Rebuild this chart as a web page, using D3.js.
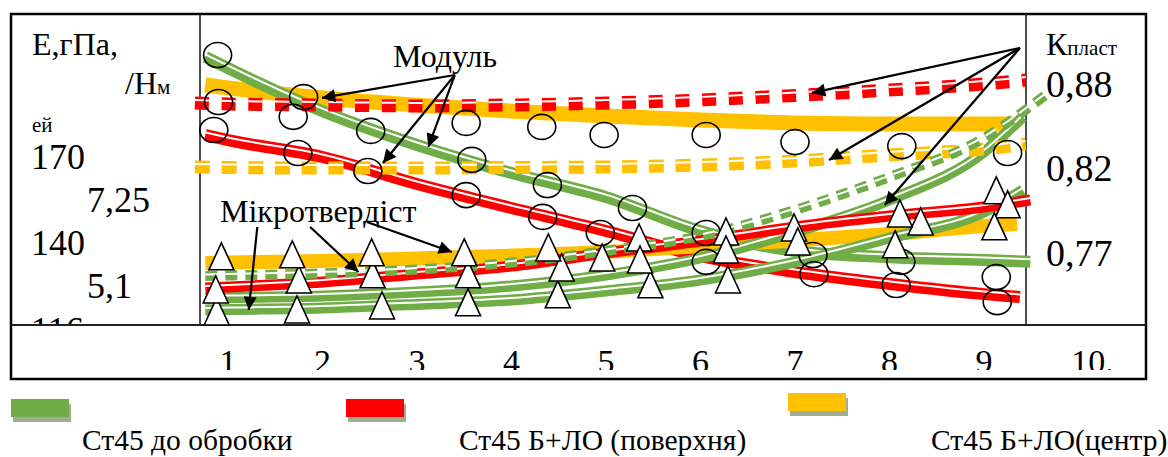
<!DOCTYPE html>
<html>
<head>
<meta charset="utf-8">
<script src="https://cdn.jsdelivr.net/npm/d3@7"></script>
<style>
body { margin: 0; background: #fff; }
svg, text { font-family: "Liberation Serif", "Times New Roman", serif; fill: #000; }
</style>
</head>
<body>
<div id="chart"></div>
<script>
var width = 1168,
    height = 457;

// bottom row
var categories = [1, 2, 3, 4, 5, 6, 7, 8, 9, 10];
var categoryLabels = ["1", "2", "3", "4", "5", "6", "7", "8", "9", "10."];

// axis labels
var eTicks = [170, 140, 116];
var hTicks = [7.25, 5.1];
var kTicks = [0.88, 0.82, 0.77];

// legend
var seriesNames = ["Ст45 до обробки", "Ст45 Б+ЛО (поверхня)", "Ст45 Б+ЛО(центр)"];
var seriesColors = ["#70ad47", "#ff0000", "#ffc000"];

// measured points [position, value] - modulus E (circles)
var eGreen = [[0.89, 205.6], [1.69, 184.0], [2.51, 179.1], [3.58, 169.0], [4.38, 160.2], [5.28, 152.2], [6.06, 143.5], [7.19, 136.7], [8.12, 134.8], [9.13, 130.6]];
var eRed = [[0.85, 179.4], [1.74, 171.4], [2.48, 165.1], [3.52, 156.7], [4.33, 149.1], [4.94, 143.5], [6.06, 134.8], [7.2, 131.4], [8.07, 128.4], [9.14, 123.7]];
var eYellow = [[0.9, 189.2], [1.8, 190.9], [3.52, 181.9], [4.32, 180.5], [4.98, 177.7], [6.06, 177.7], [7.0, 175.2], [8.13, 173.8], [9.25, 171.4]];

// microhardness H (triangles)
var hGreen = [[0.88, 4.45], [1.73, 4.5], [2.63, 4.6], [3.54, 4.68], [4.49, 4.88], [5.47, 5.13], [6.29, 5.25], [8.33, 6.7], [9.13, 7.48]];
var hRed = [[0.87, 5.0], [1.75, 5.25], [2.53, 5.38], [3.54, 5.38], [4.53, 5.55], [5.35, 6.3], [6.27, 6.45], [6.99, 6.55], [8.11, 6.9], [9.25, 7.13]];
var hYellow = [[0.93, 5.83], [1.68, 5.88], [2.52, 5.93], [3.5, 5.93], [4.39, 6.05], [4.96, 5.8], [5.36, 5.75], [6.27, 6.0], [7.03, 6.2], [8.06, 6.13], [9.11, 6.58]];

// trend lines
var eGreenFit = [[0.76, 204.9], [1, 201.0], [2, 186.0], [3, 174.2], [4, 164.4], [5, 156.0], [6, 144.2], [7, 137.8], [8, 136.1], [9, 135.3], [9.49, 134.8]];
var eRedFit = [[0.76, 177.7], [1, 175.9], [2, 170.0], [3, 160.6], [4, 152.2], [5, 144.2], [6, 136.4], [7, 132.0], [8, 128.7], [9, 125.9], [9.38, 125.1]];
var eYellowFit = [[0.76, 195.1], [1, 194.1], [2, 190.6], [3, 188.1], [4, 186.0], [5, 184.3], [6, 182.9], [7, 181.9], [8, 181.5], [9, 181.5], [9.31, 181.5]];
var hYellowFit = [[0.76, 5.675], [1, 5.69], [2, 5.725], [3, 5.79], [4, 5.86], [5, 5.95], [6, 6.1], [7, 6.24], [8, 6.4], [9, 6.6], [9.35, 6.65]];
var hRedFit = [[0.76, 5.05], [1, 5.075], [2, 5.2], [3, 5.4], [4, 5.6], [5, 5.925], [6, 6.225], [7, 6.575], [8, 6.85], [9, 7.075], [9.49, 7.25]];
var hGreenFit = [[0.76, 4.5], [1, 4.51], [2, 4.55], [3, 4.64], [4, 4.75], [5, 4.975], [6, 5.25], [7, 5.7], [8, 6.3], [9, 6.95], [9.41, 7.5]];
var hGreenFit2 = [[0.76, 4.8], [1, 4.81], [2, 4.85], [3, 4.95], [4, 5.1], [5, 5.375], [6, 5.8], [7, 6.45], [8, 7.25], [9, 8.45], [9.41, 9.325]];
var kRedFit = [[0.65, 0.8657], [1, 0.865], [2, 0.8643], [3, 0.8636], [4, 0.8643], [5, 0.8657], [6, 0.8679], [7, 0.8711], [8, 0.875], [9, 0.8793], [9.44, 0.8821]];
var kYellowFit = [[0.65, 0.82], [1, 0.8197], [2, 0.8194], [3, 0.8194], [4, 0.8197], [5, 0.82], [6, 0.8214], [7, 0.8243], [8, 0.8286], [9, 0.8329], [9.44, 0.8364]];
var kGreenFit = [[0.76, 0.7559], [1, 0.7562], [2, 0.7574], [3, 0.7597], [4, 0.7638], [5, 0.7706], [6, 0.7794], [7, 0.7947], [8, 0.8141], [9, 0.8407], [9.65, 0.8714]];

// annotation arrows [from, to]
var eArrows = [[[3.4, 198.6], [1.995, 190.6]], [[3.4, 198.6], [2.64, 167.9]], [[3.4, 198.6], [3.12, 173.5]]];
var hArrows = [[[1.31, 6.575], [1.22, 4.5]], [[1.87, 6.575], [2.38, 5.45]], [[2.47, 6.7], [3.37, 5.95]]];
var kArrows = [[[9.38, 0.905], [7.18, 0.8729]], [[9.38, 0.905], [7.36, 0.825]], [[9.38, 0.905], [7.95, 0.7976]]];

var green = seriesColors[0], red = seriesColors[1], yellow = seriesColors[2];

var x = d3.scaleLinear().domain([1, 9]).range([228, 984]);
var yE = d3.scaleLinear().domain([116, 140, 170]).range([330, 243, 157]);
var yH = d3.scaleLinear().domain([5.1, 7.25]).range([286, 200]);
var yK = d3.scaleLinear().domain([0.77, 0.82, 0.88]).range([252, 167, 83]);

var svg = d3.select('#chart').append('svg')
    .attr('width', width)
    .attr('height', height);

var defs = svg.append('defs');
defs.append('clipPath').attr('id', 'leftClip')
  .append('rect').attr('x', 11).attr('y', 14).attr('width', 189).attr('height', 310);
defs.append('clipPath').attr('id', 'bottomClip')
  .append('rect').attr('x', 11).attr('y', 326).attr('width', 1135).attr('height', 44);
defs.append('marker').attr('id', 'head')
  .attr('viewBox', '0 0 10 10').attr('refX', 10).attr('refY', 5)
  .attr('markerWidth', 7).attr('markerHeight', 6).attr('markerUnits', 'strokeWidth')
  .attr('orient', 'auto')
  .append('path').attr('d', 'M0,0L10,5L0,10z').attr('fill', '#000');

function fmt(v) { return String(v).replace('.', ','); }

// frame
svg.append('rect').attr('x', 11).attr('y', 14).attr('width', 1135).attr('height', 365)
  .attr('fill', 'none').attr('stroke', '#000').attr('stroke-width', 2.5);
svg.append('line').attr('x1', 11).attr('x2', 1146).attr('y1', 325).attr('y2', 325)
  .attr('stroke', '#222').attr('stroke-width', 2);
svg.append('line').attr('x1', 200).attr('x2', 200).attr('y1', 14).attr('y2', 325)
  .attr('stroke', '#222').attr('stroke-width', 1.6);
svg.append('line').attr('x1', 1026).attr('x2', 1026).attr('y1', 14).attr('y2', 325)
  .attr('stroke', '#222').attr('stroke-width', 1.6);

// trend lines
var fits = [
  {d: eYellowFit, y: yE, c: yellow, w: 15},
  {d: eGreenFit, y: yE, c: green, w: 12, s: true},
  {d: eRedFit, y: yE, c: red, w: 12, s: true},
  {d: hYellowFit, y: yH, c: yellow, w: 14},
  {d: hGreenFit, y: yH, c: green, w: 11, s: true},
  {d: hGreenFit2, y: yH, c: green, w: 11, s: true},
  {d: hRedFit, y: yH, c: red, w: 11, s: true},
  {d: kRedFit, y: yK, c: red, w: 13, s: true, dash: '14 12.7'},
  {d: kYellowFit, y: yK, c: yellow, w: 13, s: true, dash: '15 11.7'},
  {d: kGreenFit, y: yK, c: green, w: 10, s: true, dash: '12 8'}
];

fits.forEach(function(f) {
  var line = d3.line()
    .x(function(p) { return x(p[0]); })
    .y(function(p) { return f.y(p[1]); })
    .curve(d3.curveMonotoneX);
  svg.append('path').attr('d', line(f.d))
    .attr('fill', 'none').attr('stroke', f.c).attr('stroke-width', f.w)
    .attr('stroke-dasharray', f.dash || null);
  if (f.s) {
    svg.append('path').attr('d', line(f.d))
      .attr('transform', 'translate(0,' + (-f.w / 2 + 3.5) + ')')
      .attr('fill', 'none').attr('stroke', '#fff').attr('stroke-width', 2)
      .attr('stroke-dasharray', f.dash || null);
  }
});

// circles (modulus)
[eGreen, eRed, eYellow].forEach(function(s) {
  svg.selectAll(null).data(s).enter().append('ellipse')
    .attr('cx', function(p) { return x(p[0]); })
    .attr('cy', function(p) { return yE(p[1]); })
    .attr('rx', 14).attr('ry', 12.5)
    .attr('fill', 'none').attr('stroke', '#000').attr('stroke-width', 1.6);
});

// triangles (microhardness)
[hGreen, hRed, hYellow].forEach(function(s) {
  svg.selectAll(null).data(s).enter().append('path')
    .attr('d', function(p) {
      var cx = x(p[0]), cy = yH(p[1]);
      return 'M' + cx + ',' + (cy - 14) + 'L' + (cx + 12.5) + ',' + (cy + 13) + 'L' + (cx - 12.5) + ',' + (cy + 13) + 'Z';
    })
    .attr('fill', '#fff').attr('stroke', '#000').attr('stroke-width', 1.6);
});

// arrows
function arrows(list, y) {
  list.forEach(function(a) {
    svg.append('line')
      .attr('x1', x(a[0][0])).attr('y1', y(a[0][1]))
      .attr('x2', x(a[1][0])).attr('y2', y(a[1][1]))
      .attr('stroke', '#000').attr('stroke-width', 2.2)
      .attr('marker-end', 'url(#head)');
  });
}
arrows(eArrows, yE);
arrows(hArrows, yH);
arrows(kArrows, yK);

svg.append('text').attr('x', 393).attr('y', 67).style('font-size', '32px').text('Модуль');
svg.append('text').attr('x', 220).attr('y', 222).style('font-size', '32px').text('Мікротвердіст');

// left labels
var left = svg.append('g').attr('clip-path', 'url(#leftClip)');
left.append('text').attr('x', 32).attr('y', 55).style('font-size', '32px').text('Е,гПа,');
var hn = left.append('text').attr('x', 125).attr('y', 94).style('font-size', '32px');
hn.append('tspan').text('/Н');
hn.append('tspan').style('font-size', '21px').text('м');
left.append('text').attr('x', 32).attr('y', 132).style('font-size', '21px').text('ей');
left.selectAll('.et').data(eTicks).enter().append('text')
  .attr('x', 31).attr('y', function(d) { return yE(d) + 12; })
  .style('font-size', '36px').text(fmt);
left.selectAll('.ht').data(hTicks).enter().append('text')
  .attr('x', 87).attr('y', function(d) { return yH(d) + 12; })
  .style('font-size', '36px').text(fmt);

// right labels
var kp = svg.append('text').attr('x', 1046).attr('y', 55).style('font-size', '32px');
kp.append('tspan').text('К');
kp.append('tspan').style('font-size', '21px').text('пласт');
svg.selectAll('.kt').data(kTicks).enter().append('text')
  .attr('x', 1046).attr('y', function(d) { return yK(d) + 14; })
  .style('font-size', '38px').text(fmt);

// bottom row
svg.append('g').attr('clip-path', 'url(#bottomClip)')
  .selectAll('text').data(categories).enter().append('text')
  .attr('x', function(d) { return x(d) + (d === 10 ? 14 : 0); })
  .attr('y', 373)
  .attr('text-anchor', 'middle')
  .style('font-size', '34px')
  .text(function(d, i) { return categoryLabels[i]; });

// legend
var legendX = [11, 346, 788],
    legendY = [399, 399, 393],
    legendTextX = [82, 459, 931];
var lg = svg.selectAll('.lg').data(seriesNames).enter().append('g');
lg.append('rect')
  .attr('x', function(d, i) { return legendX[i] + 2; })
  .attr('y', function(d, i) { return legendY[i] + 5; })
  .attr('width', 58).attr('height', 18).attr('fill', '#a0ad93');
lg.append('rect')
  .attr('x', function(d, i) { return legendX[i]; })
  .attr('y', function(d, i) { return legendY[i]; })
  .attr('width', 58).attr('height', 18)
  .attr('fill', function(d, i) { return seriesColors[i]; });
lg.append('text')
  .attr('x', function(d, i) { return legendTextX[i]; })
  .attr('y', 450)
  .style('font-size', '29.5px')
  .text(function(d) { return d; });
</script>
</body>
</html>
